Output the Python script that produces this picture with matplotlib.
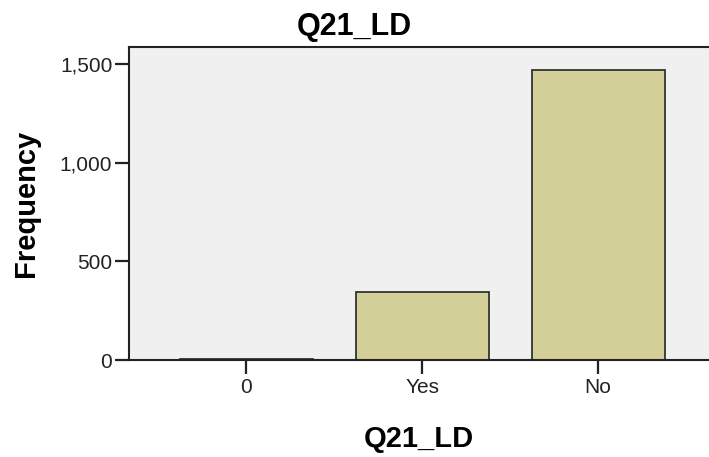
import matplotlib.pyplot as plt
from matplotlib.ticker import FuncFormatter

# Daten
categories = ["0", "Yes", "No"]
frequency = [4, 343, 1469]

plt.rcParams["font.family"] = ["Liberation Sans", "DejaVu Sans"]

fig = plt.figure(figsize=(7.09, 4.57), dpi=100)
ax = fig.add_axes([129 / 709, 97 / 457, 1 - 129 / 709, (360 - 47) / 457])
ax.set_facecolor("#f0f0f0")

x = range(len(categories))
ax.bar(x, frequency, width=0.755, color="#d3cf98", edgecolor="#333333", linewidth=1.3)

ax.set_xlim(-0.665, 2.63)
ax.set_ylim(0, 1585)
ax.set_xticks(list(x))
ax.set_xticklabels(categories)
ax.set_yticks([0, 500, 1000, 1500])
ax.yaxis.set_major_formatter(FuncFormatter(lambda v, p: f"{int(v):,}"))

for s in ["left", "bottom", "top"]:
    ax.spines[s].set_linewidth(1.5)
    ax.spines[s].set_color("#222222")
ax.spines["right"].set_visible(False)
ax.tick_params(axis="both", direction="out", length=10, width=1.6, labelsize=15, colors="#222222")
ax.tick_params(axis="y", pad=2)
ax.tick_params(axis="x", pad=3)

# Titel ist auf die ganze Abbildung zentriert (SPSS)
fig.text(0.5, 1 - 35 / 457, "Q21_LD", fontsize=22, fontweight="bold", ha="center", va="baseline")
ax.set_xlabel("Q21_LD", fontsize=21, fontweight="bold", labelpad=20)
ax.set_ylabel("Frequency", fontsize=21, fontweight="bold", labelpad=14)

fig.savefig("out.png", dpi=100)
